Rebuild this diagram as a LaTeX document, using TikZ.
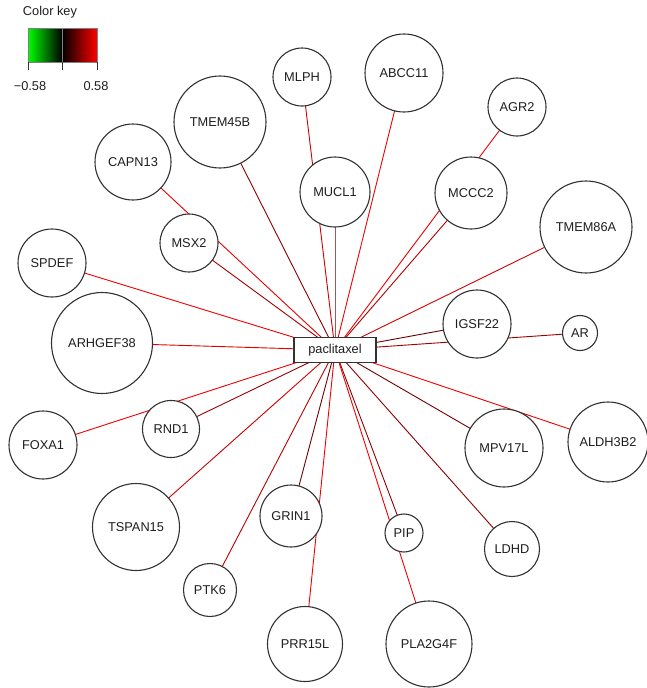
\documentclass[tikz,border=0pt]{standalone}
\usepackage{fontspec}
\setmainfont{Liberation Sans}
\usetikzlibrary{backgrounds}
\definecolor{keygreen}{RGB}{0,255,0}
\definecolor{ringgray}{RGB}{50,50,50}
\definecolor{textgray}{RGB}{30,30,30}
\tikzset{
  gene/.style={circle, draw=ringgray, line width=1.1pt, fill=white, inner sep=0pt,
    text=textgray, font=\fontsize{12.8}{14}\selectfont},
  drug/.style={rectangle, draw=ringgray, line width=1.1pt, fill=white, inner sep=0pt,
    minimum width=82pt, minimum height=25pt, text=textgray, font=\fontsize{12.8}{14}\selectfont},
  keytext/.style={text=textgray, inner sep=0pt, font=\fontsize{12.8}{14}\selectfont},
  link/.style={line width=0.9pt}
}
\begin{document}
\begin{tikzpicture}[x=1pt, y=-1pt]
  \useasboundingbox (0,0) rectangle (646,688);
  % color key
  \node[keytext] (keytitle) at (50,12) {Color key};
  \shade[left color=keygreen, right color=black] (28,28) rectangle (62,62);
  \shade[left color=black, right color=red] (62,28) rectangle (97,62);
  \draw[gray, line width=0.8pt] (28,28) rectangle (97,62);
  \draw[gray, line width=0.8pt] (62,28) -- (62,62);
  \draw[ringgray, line width=0.8pt] (28,62) -- (28,70) (62,62) -- (62,70) (97,62) -- (97,70);
  \node[keytext] (keylow) at (30,86) {−0.58};
  \node[keytext] (keyhigh) at (96,86) {0.58};
  % drug and genes
  \node[drug] (pac) at (335,350) {paclitaxel};
  \node[gene, minimum size=58pt] (mlph) at (302,77) {MLPH};
  \node[gene, minimum size=78pt] (abcc11) at (404,73) {ABCC11};
  \node[gene, minimum size=92pt] (tmem45b) at (220,122) {TMEM45B};
  \node[gene, minimum size=70pt] (mucl1) at (335,192) {MUCL1};
  \node[gene, minimum size=76pt] (capn13) at (133,162) {CAPN13};
  \node[gene, minimum size=58pt] (msx2) at (189,243) {MSX2};
  \node[gene, minimum size=58pt] (agr2) at (517,107) {AGR2};
  \node[gene, minimum size=72pt] (mccc2) at (471,193) {MCCC2};
  \node[gene, minimum size=92pt] (tmem86a) at (586,227) {TMEM86A};
  \node[gene, minimum size=68pt] (spdef) at (52,263) {SPDEF};
  \node[gene, minimum size=101pt] (arhgef38) at (102,343) {ARHGEF38};
  \node[gene, minimum size=68pt] (igsf22) at (477,324) {IGSF22};
  \node[gene, minimum size=35pt] (ar) at (580,333) {AR};
  \node[gene, minimum size=57pt] (rnd1) at (171,429) {RND1};
  \node[gene, minimum size=68pt] (foxa1) at (43,445) {FOXA1};
  \node[gene, minimum size=78pt] (mpv17l) at (504,448) {MPV17L};
  \node[gene, minimum size=80pt] (aldh3b2) at (608,442) {ALDH3B2};
  \node[gene, minimum size=87pt] (tspan15) at (136,527) {TSPAN15};
  \node[gene, minimum size=62pt] (grin1) at (291,516) {GRIN1};
  \node[gene, minimum size=38pt] (pip) at (404,533) {PIP};
  \node[gene, minimum size=55pt] (ldhd) at (512,549) {LDHD};
  \node[gene, minimum size=53pt] (ptk6) at (210,590) {PTK6};
  \node[gene, minimum size=75pt] (prr15l) at (305,644) {PRR15L};
  \node[gene, minimum size=86pt] (pla2g4f) at (429,644) {PLA2G4F};
  % edges behind the nodes
  \begin{scope}[on background layer]
    \foreach \g/\c in {mlph/red!80!black, abcc11/red!95!black, tmem45b/red!55!black,
      mucl1/red!35!gray, capn13/red!90!black, msx2/red!65!black, agr2/red!92!black,
      mccc2/red!70!black, tmem86a/red!82!black, spdef/red!95!black, arhgef38/red!88!black,
      igsf22/red!40!black, ar/red!60!black, rnd1/red!60!black, foxa1/red!95!black,
      mpv17l/red!45!black, aldh3b2/red!95!black, tspan15/red!82!black, grin1/red!45!black,
      pip/red!55!black, ldhd/red!55!black, ptk6/red!72!black, prr15l/red!95!black,
      pla2g4f/red!95!black}
      \draw[link, draw=\c] (pac.center) -- (\g.center);
  \end{scope}
\end{tikzpicture}
\end{document}
